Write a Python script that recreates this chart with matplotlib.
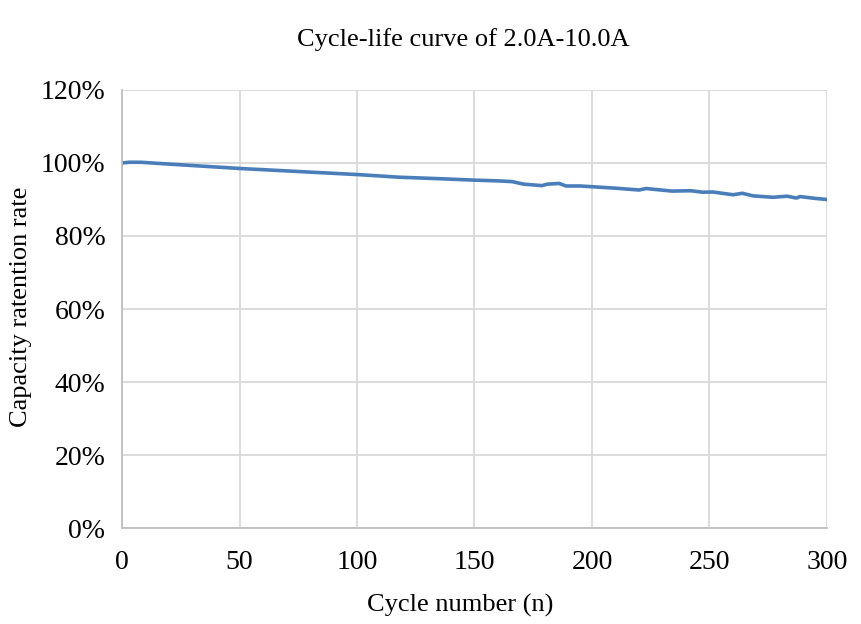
import matplotlib.pyplot as plt
from matplotlib.ticker import FuncFormatter

# Daten
cycles = [0, 3, 8, 20, 35, 50, 65, 80, 101, 118, 135, 150, 160, 166, 171, 178.7, 181,
          186, 189, 195, 200, 210, 220, 223, 234, 242, 247, 251.5, 260, 264, 268.5,
          277, 283, 287, 288.5, 295, 300]
retention = [100.0, 100.2, 100.2, 99.7, 99.1, 98.5, 98.0, 97.5, 96.8, 96.1, 95.7, 95.3,
             95.1, 94.9, 94.2, 93.8, 94.2, 94.4, 93.7, 93.7, 93.5, 93.1, 92.6, 93.0,
             92.3, 92.4, 92.0, 92.05, 91.3, 91.7, 91.0, 90.6, 90.9, 90.4, 90.8, 90.3, 90.0]

x_ticks = [0, 50, 100, 150, 200, 250, 300]
y_ticks = [0, 20, 40, 60, 80, 100, 120]

plt.rcParams['font.family'] = ['Liberation Serif', 'DejaVu Serif']

fig = plt.figure(figsize=(8.61, 6.24), dpi=100)
ax = fig.add_axes([0.1417, 0.1538, 0.8188, 0.702])

ax.plot(cycles, retention, color='#4a7ebb', linewidth=2.6, solid_capstyle='round')

ax.set_xlim(0, 300)
ax.set_ylim(0, 120)
ax.set_xticks(x_ticks)
ax.set_yticks(y_ticks)
ax.yaxis.set_major_formatter(FuncFormatter(lambda v, p: f'{v:.0f}%'))
ax.grid(True, color='#d9d9d9', linewidth=1.3)
ax.set_axisbelow(True)
ax.tick_params(length=0, labelsize=20)
ax.tick_params(axis='x', pad=16)
ax.tick_params(axis='y', pad=12)

for s in ['top', 'right']:
    ax.spines[s].set_visible(False)
for s in ['left', 'bottom']:
    ax.spines[s].set_color('#bfbfbf')
    ax.spines[s].set_linewidth(1.3)

# Opisy osi i tytul
fig.text(0.534, 0.030, 'Cycle number (n)', fontsize=19, ha='center', va='center')
fig.text(0.024, 0.508, 'Capacity ratention rate', fontsize=19, ha='center', va='center',
         rotation=90)
fig.text(0.538, 0.936, 'Cycle-life curve of 2.0A-10.0A', fontsize=19, ha='center', va='center')

fig.savefig('out.png', dpi=100)
